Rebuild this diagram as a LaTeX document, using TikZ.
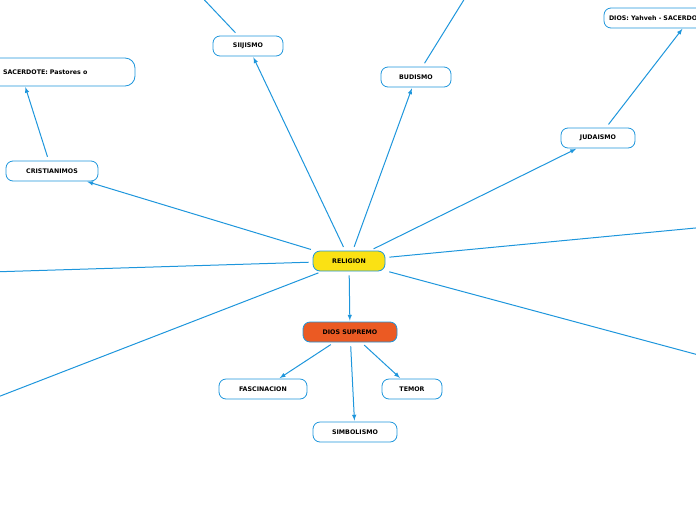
\documentclass[tikz,border=0pt]{standalone}
\usepackage{fontspec}
\setmainfont{DejaVu Sans}
\usetikzlibrary{positioning}
\definecolor{linkblue}{RGB}{30,150,220}
\definecolor{rootyellow}{RGB}{250,225,20}
\definecolor{mainorange}{RGB}{235,90,35}
\tikzset{
    topic/.style={draw=linkblue, line width=0.8pt, rounded corners=7pt, fill=white, minimum height=20pt,
        font=\bfseries\fontsize{6.3}{7}\selectfont, inner sep=2pt},
    link/.style={draw=linkblue, line width=1pt, shorten >=1pt, shorten <=4pt},
    arrowlink/.style={link, -latex}
}
\begin{document}
\begin{tikzpicture}[x=1pt,y=-1pt]
    \useasboundingbox (0,0) rectangle (696,520);
    \clip (0,0) rectangle (696,520);

    % Main nodes
    \node[topic, fill=rootyellow, minimum width=72pt] (religion) at (349,261) {RELIGION};
    \node[topic, fill=mainorange, minimum width=94pt] (dios) at (350,332) {DIOS SUPREMO};

    % Children of dios supremo
    \node[topic, minimum width=88pt] (fascinacion) at (263,389) {FASCINACION};
    \node[topic, minimum width=60pt] (temor) at (412,389) {TEMOR};
    \node[topic, minimum width=84pt] (simbolismo) at (355,432) {SIMBOLISMO};

    % Religions
    \node[topic, minimum width=92pt] (cristianismo) at (52,171) {CRISTIANIMOS};
    \node[topic, minimum width=70pt] (siijismo) at (248,46) {SIIJISMO};
    \node[topic, minimum width=70pt] (budismo) at (416,77) {BUDISMO};
    \node[topic, minimum width=74pt] (judaismo) at (598,138) {JUDAISMO};

    % Detail boxes (cut by the border)
    \node[topic, minimum width=170pt, minimum height=28pt, rounded corners=10pt,
        text width=160pt, align=left] (sacerdote) at (50,72) {\hspace*{33pt}SACERDOTE: Pastores o};
    \node[topic, minimum width=150pt, text width=140pt, align=left] (yahveh) at (679,18) {DIOS: Yahveh - SACERDOTE};

    % Off-canvas ends
    \coordinate (w1) at (-10,272);
    \coordinate (w2) at (-10,400);
    \coordinate (e1) at (706,227);
    \coordinate (e2) at (706,357);
    \coordinate (n1) at (195,-10);
    \coordinate (n2) at (470,-10);

    \draw[arrowlink] (religion) -- (dios);
    \draw[arrowlink] (religion) -- (cristianismo);
    \draw[arrowlink] (religion.110) -- (siijismo);
    \draw[arrowlink] (religion.70) -- (budismo);
    \draw[arrowlink] (religion) -- (judaismo);
    \draw[link, shorten >=0pt] (religion) -- (w1);
    \draw[link, shorten >=0pt] (religion) -- (w2);
    \draw[link, shorten >=0pt] (religion) -- (e1);
    \draw[link, shorten >=0pt] (religion) -- (e2);

    \draw[arrowlink] (dios) -- (fascinacion);
    \draw[arrowlink] (dios) -- (temor);
    \draw[arrowlink] (dios) -- (simbolismo);

    \draw[arrowlink] (cristianismo) -- (25,86);
    \draw[arrowlink] (judaismo) -- (683,28);
    \draw[link, shorten >=0pt] (siijismo) -- (n1);
    \draw[link, shorten >=0pt] (budismo) -- (n2);
\end{tikzpicture}
\end{document}
